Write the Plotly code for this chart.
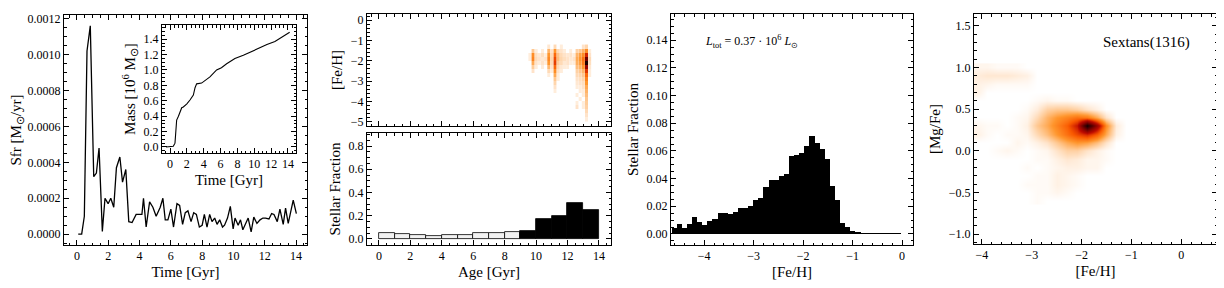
import plotly.graph_objects as go

# ---------------- data ----------------
sfr_time = [0.08, 0.30, 0.47, 0.64, 0.85, 1.07, 1.24, 1.41, 1.62, 1.79, 1.99, 2.16, 2.35, 2.52, 2.74,
            2.91, 3.12, 3.31, 3.52, 3.78, 4.04, 4.15, 4.25, 4.42, 4.64, 4.85, 5.06, 5.32, 5.49, 5.64,
            5.81, 6.00, 6.17, 6.39, 6.56, 6.75, 6.92, 7.09, 7.29, 7.46, 7.63, 7.82, 8.00, 8.14, 8.31,
            8.48, 8.63, 8.80, 8.95, 9.12, 9.30, 9.43, 9.62, 9.80, 9.98, 10.10, 10.30, 10.45, 10.60,
            10.77, 10.94, 11.13, 11.30, 11.50, 11.70, 11.88, 12.05, 12.27, 12.44, 12.59, 12.80, 12.97,
            13.18, 13.33, 13.50, 13.82, 14.02]
sfr_value = [0.0, 0.0, 0.0001, 0.00102, 0.00116, 0.00032, 0.00034, 0.00048, 0.000015, 0.00020,
             0.00017, 0.00020, 0.00015, 0.00037, 0.00043, 0.00029, 0.00036, 0.00007, 0.000065, 0.00011,
             0.00011, 0.00011, 0.00020, 0.00004, 0.00018, 0.00015, 0.00010, 0.00015, 0.00020, 0.00008,
             0.00008, 0.00014, 0.00004, 0.00017, 0.00016, 0.000055, 0.00012, 0.00013, 0.00007, 0.00012,
             0.00011, 0.00004, 0.00005, 0.00011, 0.00004, 0.00011, 0.00007, 0.00009, 0.000055, 0.00008,
             0.00004, 0.00005, 0.00009, 0.000155, 0.00003, 0.00009, 0.00005, 0.00008, 0.000025, 0.00006,
             0.00009, 0.000013, 0.000095, 0.00006, 0.00008, 0.00009, 0.00009, 0.000085, 0.000115,
             0.00011, 0.00007, 0.00014, 0.000055, 0.000145, 0.00006, 0.00019, 0.000115]

mass_time = [-0.47, 0.39, 0.59, 0.79, 1.0, 1.39, 1.58, 2.0, 2.37, 2.77, 2.97, 3.16, 3.75, 4.74,
             5.53, 6.1, 6.72, 7.7, 8.7, 9.7, 10.3, 11.5, 12.45, 13.4, 14.2]
mass_value = [0.0, 0.01, 0.05, 0.35, 0.40, 0.51, 0.52, 0.56, 0.61, 0.675, 0.77, 0.82, 0.83, 0.91,
              1.0, 1.03, 1.08, 1.15, 1.19, 1.24, 1.28, 1.33, 1.37, 1.43, 1.49]

# age - [Fe/H] density (panel 2, top)
age_cols = [9.6, 9.8, 10.0, 10.2, 10.4, 10.6, 10.8, 11.0, 11.2, 11.4, 11.6, 11.8, 12.0, 12.2, 12.4,
            12.6, 12.8, 13.0, 13.2, 13.4]
feh_rows = [-1.3, -1.5, -1.7, -1.9, -2.1, -2.3, -2.5, -2.7, -2.9, -3.1, -3.3, -3.5, -3.7, -3.9,
            -4.1, -4.3, -4.5, -4.7, -4.9]
age_feh_density = [
    [0, 0, 0, 0, 0, 0, 5, 0, 8, 0, 4, 0, 0, 0, 0, 0, 0, 6, 9, 0],
    [0, 12, 4, 0, 4, 0, 16, 6, 22, 8, 6, 4, 0, 4, 0, 10, 12, 16, 24, 4],
    [4, 24, 7, 5, 7, 4, 22, 8, 32, 13, 8, 6, 5, 6, 4, 16, 20, 24, 45, 6],
    [4, 26, 8, 6, 5, 6, 25, 9, 38, 14, 9, 7, 6, 5, 6, 18, 22, 30, 70, 8],
    [0, 18, 6, 4, 6, 4, 22, 8, 40, 11, 8, 5, 6, 4, 4, 17, 20, 28, 92, 7],
    [0, 11, 4, 0, 4, 0, 15, 6, 32, 8, 5, 4, 4, 0, 0, 14, 16, 22, 60, 5],
    [0, 6, 0, 0, 0, 0, 8, 4, 24, 6, 4, 0, 0, 0, 0, 10, 12, 16, 42, 4],
    [0, 0, 0, 0, 0, 0, 4, 0, 18, 4, 0, 0, 0, 0, 0, 8, 9, 12, 32, 4],
    [0, 0, 0, 0, 0, 0, 0, 0, 12, 4, 0, 0, 0, 0, 0, 6, 7, 9, 26, 0],
    [0, 0, 0, 0, 0, 0, 0, 0, 9, 0, 0, 0, 0, 0, 0, 5, 6, 7, 22, 0],
    [0, 0, 0, 0, 0, 0, 0, 0, 6, 0, 0, 0, 0, 0, 0, 4, 4, 6, 18, 0],
    [0, 0, 0, 0, 0, 0, 0, 0, 4, 0, 0, 0, 0, 0, 0, 0, 4, 4, 16, 0],
    [0, 0, 0, 0, 0, 0, 0, 0, 0, 0, 0, 0, 0, 0, 0, 4, 0, 4, 14, 0],
    [0, 0, 0, 0, 0, 0, 0, 0, 0, 0, 0, 0, 0, 0, 0, 0, 4, 0, 12, 0],
    [0, 0, 0, 0, 0, 0, 0, 0, 0, 0, 0, 0, 0, 0, 0, 4, 0, 4, 11, 0],
    [0, 0, 0, 0, 0, 0, 0, 0, 0, 0, 0, 0, 0, 0, 0, 6, 0, 4, 10, 0],
    [0, 0, 0, 0, 0, 0, 0, 0, 0, 0, 0, 0, 0, 0, 0, 0, 0, 0, 8, 0],
    [0, 0, 0, 0, 0, 0, 0, 0, 0, 0, 0, 0, 0, 0, 0, 0, 0, 0, 6, 0],
    [0, 0, 0, 0, 0, 0, 0, 0, 0, 0, 0, 0, 0, 0, 0, 0, 0, 0, 4, 0],
]
age_cell_width = 0.17

# age histogram (panel 2, bottom)
age_bin_centers = [0.5, 1.5, 2.5, 3.5, 4.5, 5.5, 6.5, 7.5, 8.5, 9.5, 10.5, 11.5, 12.5, 13.5]
age_fraction = [0.053, 0.044, 0.035, 0.027, 0.035, 0.033, 0.053, 0.053, 0.062, 0.071, 0.168, 0.20,
                0.31, 0.25]
age_split = 9.0  # younger bins drawn light, older bins black

# MDF (panel 3)
mdf_centers = [-4.60, -4.50, -4.39, -4.29, -4.19, -4.09, -3.98, -3.88, -3.78, -3.67, -3.57, -3.47,
               -3.36, -3.26, -3.16, -3.06, -2.95, -2.85, -2.75, -2.64, -2.54, -2.44, -2.33, -2.23,
               -2.13, -2.02, -1.92, -1.82, -1.72, -1.61, -1.51, -1.41, -1.30, -1.20, -1.10, -1.00,
               -0.89, -0.79, -0.69, -0.58, -0.48, -0.38, -0.27, -0.17, -0.07]
mdf_fraction = [0.0041, 0.007, 0.004, 0.007, 0.012, 0.0084, 0.0065, 0.0096, 0.011, 0.0154, 0.015,
                0.0145, 0.016, 0.019, 0.0186, 0.020, 0.0246, 0.026, 0.034, 0.039, 0.0388, 0.042,
                0.043, 0.0564, 0.0573, 0.0588, 0.0636, 0.0706, 0.066, 0.0614, 0.054, 0.0345, 0.0246,
                0.0082, 0.0053, 0.002, 0.0007, 0.0004, 0.0003, 0.0003, 0.0003, 0.0003, 0.0003,
                0.0003, 0.0003]
mdf_bin_width = 0.108

# [Mg/Fe] vs [Fe/H] density (panel 4)
feh_cols = [-4.1, -3.9, -3.7, -3.5, -3.3, -3.1, -2.9, -2.7, -2.5, -2.3, -2.1, -1.9, -1.7, -1.5,
            -1.3, -1.1]
mgfe_rows = [-0.6, -0.5, -0.4, -0.3, -0.2, -0.1, 0.0, 0.1, 0.2, 0.3, 0.4, 0.5, 0.6, 0.7, 0.8, 0.9,
             1.0]
mgfe_density = [
    [0, 0, 0, 0, 0, 0, 1, 0, 0, 0, 0, 0, 0, 0, 0, 0],
    [0, 0, 0, 0, 0, 0, 1, 1, 2, 1, 0, 0, 0, 0, 0, 0],
    [0, 0, 0, 0, 0, 1, 1, 1, 3, 2, 1, 0, 0, 0, 0, 0],
    [0, 0, 0, 0, 0, 0, 1, 1, 3, 2, 1, 0, 0, 0, 0, 0],
    [0, 0, 0, 0, 0, 1, 0, 1, 2, 3, 3, 2, 2, 0, 0, 0],
    [0, 0, 0, 0, 0, 0, 1, 1, 3, 5, 4, 2, 2, 1, 0, 0],
    [0, 0, 1, 2, 1, 0, 1, 2, 6, 10, 10, 6, 3, 1, 0, 0],
    [0, 0, 0, 0, 2, 1, 3, 6, 12, 18, 22, 20, 14, 6, 0, 0],
    [3, 1, 0, 1, 1, 2, 8, 14, 22, 30, 38, 44, 34, 18, 3, 0],
    [2, 1, 1, 0, 1, 3, 12, 18, 26, 34, 48, 95, 60, 24, 4, 0],
    [0, 0, 0, 0, 1, 2, 8, 16, 22, 26, 30, 28, 18, 6, 0, 0],
    [0, 0, 0, 0, 0, 1, 4, 10, 12, 12, 10, 6, 3, 0, 0, 0],
    [0, 0, 0, 0, 0, 0, 1, 2, 1, 1, 0, 0, 0, 0, 0, 0],
    [3, 0, 0, 0, 0, 0, 0, 0, 0, 0, 0, 0, 0, 0, 0, 0],
    [3, 2, 1, 1, 1, 1, 0, 0, 0, 0, 0, 0, 0, 0, 0, 0],
    [4, 5, 5, 5, 4, 3, 0, 0, 0, 0, 0, 0, 0, 0, 0, 0],
    [2, 2, 1, 1, 1, 0, 0, 0, 0, 0, 0, 0, 0, 0, 0, 0],
]

# ---------------- styling ----------------
FONT = "Liberation Serif"
heat_scale = [
    [0.0, "rgb(255,255,255)"],
    [0.05, "rgb(255,232,210)"],
    [0.12, "rgb(255,200,145)"],
    [0.22, "rgb(255,150,45)"],
    [0.35, "rgb(250,90,0)"],
    [0.5, "rgb(190,10,0)"],
    [0.75, "rgb(96,0,0)"],
    [1.0, "rgb(0,0,0)"],
]

# The page body has an 8 px margin, so the figure is 8 px smaller and positions are shifted.
OFF = 8
W, H = 1224 - OFF, 288 - OFF


def xd(a, b):
    return [(a - OFF) / W, (b - OFF) / W]


def yd(top, bottom):
    return [1 - (bottom - OFF) / H, 1 - (top - OFF) / H]


def axis(dom, rng, dtick, mdt, anchor, fmt=None, labels=True, title=None):
    d = dict(
        domain=dom, range=rng, dtick=dtick, tick0=0, anchor=anchor, automargin=False,
        showline=True, linecolor="black", linewidth=1, mirror="allticks",
        ticks="inside", ticklen=5, tickwidth=1, tickcolor="black",
        minor=dict(ticks="inside", ticklen=2.5, tickwidth=1, tickcolor="black", dtick=mdt, tick0=0),
        showgrid=False, zeroline=False, showticklabels=labels,
        tickfont=dict(family=FONT, size=12, color="black"),
    )
    if fmt:
        d["tickformat"] = fmt
    if title:
        d["title"] = dict(text=title, font=dict(family=FONT, size=15, color="black"), standoff=4)
    return d


fig = go.Figure()

fig.add_trace(go.Scatter(x=sfr_time, y=sfr_value, mode="lines", line=dict(color="black", width=1.3),
                         xaxis="x", yaxis="y", showlegend=False))
fig.add_trace(go.Scatter(x=mass_time, y=mass_value, mode="lines", line=dict(color="black", width=1.1),
                         xaxis="x2", yaxis="y2", showlegend=False))

# each age column drawn as a narrow strip so the streaky look is kept
for j, a in enumerate(age_cols):
    col = [[row[j]] for row in age_feh_density]
    fig.add_trace(go.Heatmap(x0=a, dx=age_cell_width, y=feh_rows, z=col, colorscale=heat_scale,
                             zmin=0, zmax=100, showscale=False, xaxis="x3", yaxis="y3"))

young_x = [c for c in age_bin_centers if c < age_split]
young_y = [v for c, v in zip(age_bin_centers, age_fraction) if c < age_split]
old_x = [c for c in age_bin_centers if c > age_split]
old_y = [v for c, v in zip(age_bin_centers, age_fraction) if c > age_split]
fig.add_trace(go.Bar(x=young_x, y=young_y, width=1.0, marker=dict(color="#f2f2f2",
                     line=dict(color="black", width=0.8)), xaxis="x4", yaxis="y4", showlegend=False))
fig.add_trace(go.Bar(x=old_x, y=old_y, width=1.0, marker=dict(color="black",
                     line=dict(color="black", width=0.8)), xaxis="x4", yaxis="y4", showlegend=False))

fig.add_trace(go.Bar(x=mdf_centers, y=mdf_fraction, width=mdf_bin_width,
                     marker=dict(color="black", line=dict(width=0)),
                     xaxis="x5", yaxis="y5", showlegend=False))

fig.add_trace(go.Heatmap(x=feh_cols, y=mgfe_rows, z=mgfe_density, colorscale=heat_scale, zmin=0,
                         zmax=100, zsmooth="best", showscale=False, xaxis="x6", yaxis="y6"))

fig.update_layout(
    width=W, height=H, autosize=False,
    margin=dict(l=0, r=0, t=0, b=0),
    paper_bgcolor="white", plot_bgcolor="white",
    barmode="overlay", bargap=0,
    font=dict(family=FONT, size=12, color="black"),
    xaxis=axis(xd(64, 307), [-0.83, 14.7], 2, 0.5, "y", title="Time [Gyr]"),
    yaxis=axis(yd(15, 245), [-0.00006, 0.00122], 0.0002, 0.00005, "x", fmt=".4f",
               title="Sfr [M<sub>⊙</sub>/yr]"),
    xaxis2=axis(xd(162, 296), [-0.95, 14.95], 2, 0.5, "y2", title="Time [Gyr]"),
    yaxis2=axis(yd(25, 153), [-0.078, 1.584], 0.2, 0.05, "x2", fmt=".1f",
                title="Mass [10<sup>6</sup> M<sub>⊙</sub>]"),
    xaxis3=axis(xd(367, 611), [-0.76, 14.77], 2, 0.5, "y3", labels=False),
    yaxis3=axis(yd(14, 126), [-5.2, 0.3], 1, 0.2, "x3", title="[Fe/H]"),
    xaxis4=axis(xd(367, 611), [-0.76, 14.77], 2, 0.5, "y4", title="Age [Gyr]"),
    yaxis4=axis(yd(133, 245), [-0.053, 0.913], 0.2, 0.05, "x4", fmt=".1f", title="Stellar Fraction"),
    xaxis5=axis(xd(671, 913), [-4.67, 0.22], 1, 0.2, "y5", title="[Fe/H]"),
    yaxis5=axis(yd(14, 245), [-0.008, 0.159], 0.02, 0.005, "x5", fmt=".2f", title="Stellar Fraction"),
    xaxis6=axis(xd(974, 1217), [-4.16, 0.72], 1, 0.2, "y6", title="[Fe/H]"),
    yaxis6=axis(yd(14, 244), [-1.12, 1.644], 0.5, 0.1, "x6", fmt=".1f", title="[Mg/Fe]"),
)

fig.add_annotation(text="<i>L</i><sub>tot</sub> = 0.37 · 10<sup>6</sup> <i>L</i><sub>⊙</sub>",
                   x=(703 - OFF) / W, y=1 - (41 - OFF) / H, xref="paper", yref="paper",
                   xanchor="left", yanchor="middle", showarrow=False,
                   font=dict(family=FONT, size=12, color="black"))
fig.add_annotation(text="Sextans(1316)", x=(1146 - OFF) / W, y=1 - (42 - OFF) / H, xref="paper",
                   yref="paper", xanchor="center", yanchor="middle", showarrow=False,
                   font=dict(family=FONT, size=15, color="black"))

fig.write_html("out.html")
